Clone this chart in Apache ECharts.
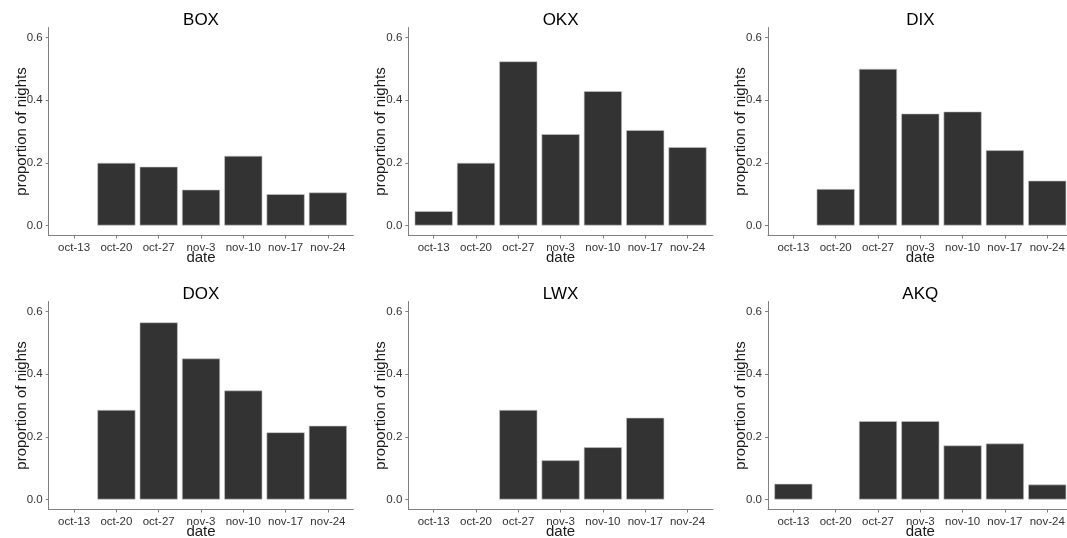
<!DOCTYPE html>
<html>
<head>
<meta charset="utf-8">
<script src="https://cdn.jsdelivr.net/npm/echarts@6/dist/echarts.min.js"></script>
<style>
html,body{margin:0;padding:0;background:#fff;}
#chart{width:1067px;height:538px;}
</style>
</head>
<body>
<div id="chart"></div>
<script>
const categories = ['oct-13', 'oct-20', 'oct-27', 'nov-3', 'nov-10', 'nov-17', 'nov-24'];
const stations = ['BOX', 'OKX', 'DIX', 'DOX', 'LWX', 'AKQ'];
const boxValues = [null, 0.2, 0.1875, 0.1143, 0.2222, 0.1, 0.1053];
const okxValues = [0.0455, 0.2, 0.5238, 0.2917, 0.4286, 0.3043, 0.25];
const dixValues = [null, 0.1163, 0.5, 0.3571, 0.3636, 0.24, 0.1429];
const doxValues = [null, 0.2857, 0.5652, 0.45, 0.3478, 0.2143, 0.2353];
const lwxValues = [null, null, 0.2857, 0.125, 0.1667, 0.2609, null];
const akqValues = [0.05, null, 0.25, 0.25, 0.1724, 0.1786, 0.0476];
const yTicks = [0, 0.2, 0.4, 0.6];
const yAxisTitle = 'proportion of nights';
const xAxisTitle = 'date';

const panelValues = [boxValues, okxValues, dixValues, doxValues, lwxValues, akqValues];

const colLeft = [48.7, 408.3, 768];
const rowTop = [27.5, 301.5];
const gridW = 304.6;
const gridH = 208;
const titleY = [20, 294.5];
const FONT = '"Liberation Sans", Arial, Helvetica, sans-serif';
const axisColor = '#808080';
const labelColor = '#333333';
const xTickValues = categories.map((c, i) => i + 1);

const grids = [], xAxes = [], yAxes = [], series = [], graphics = [];
stations.forEach((name, p) => {
  const col = p % 3, row = Math.floor(p / 3);
  grids.push({ left: colLeft[col], top: rowTop[row], width: gridW, height: gridH, outerBoundsMode: 'none' });
  xAxes.push({
    type: 'value', gridIndex: p, min: 0.4, max: 7.6,
    splitLine: { show: false },
    axisLine: { show: true, onZero: false, lineStyle: { color: axisColor, width: 1 } },
    axisTick: { show: true, length: 3, customValues: xTickValues, lineStyle: { color: axisColor } },
    axisLabel: {
      customValues: xTickValues, margin: 6, color: labelColor, fontSize: 11.5, fontFamily: FONT,
      formatter: v => categories[Math.round(v) - 1]
    },
    name: xAxisTitle, nameLocation: 'middle', nameGap: 15, nameMoveOverlap: false,
    nameTextStyle: { fontSize: 15, fontFamily: FONT, color: '#1a1a1a' }
  });
  yAxes.push({
    type: 'value', gridIndex: p, min: -0.032, max: 0.632,
    splitLine: { show: false },
    axisLine: { show: true, onZero: false, lineStyle: { color: axisColor, width: 1 } },
    axisTick: { show: true, length: 3, customValues: yTicks, lineStyle: { color: axisColor } },
    axisLabel: {
      customValues: yTicks, margin: 6, color: labelColor, fontSize: 11.5, fontFamily: FONT,
      formatter: v => v.toFixed(1)
    },
    name: yAxisTitle, nameLocation: 'middle', nameGap: 19.5, nameRotate: 90, nameMoveOverlap: false,
    nameTextStyle: { fontSize: 15, fontFamily: FONT, color: '#1a1a1a' }
  });
  series.push({
    type: 'bar', xAxisIndex: p, yAxisIndex: p,
    barWidth: '90%',
    itemStyle: { color: '#333333', borderColor: '#c8c8c8', borderWidth: 0.6 },
    data: panelValues[p].map((v, i) => [i + 1, v == null ? '-' : v]),
    silent: true, animation: false
  });
  graphics.push({
    type: 'text', x: colLeft[col] + gridW / 2, y: titleY[row],
    style: { text: name, fontSize: 17, fontFamily: FONT, fill: '#000', align: 'center', verticalAlign: 'middle' }
  });
});

const chart = echarts.init(document.getElementById('chart'), null, { renderer: 'canvas' });
chart.setOption({
  animation: false,
  backgroundColor: '#ffffff',
  grid: grids, xAxis: xAxes, yAxis: yAxes, series: series, graphic: graphics
});
</script>
</body>
</html>
